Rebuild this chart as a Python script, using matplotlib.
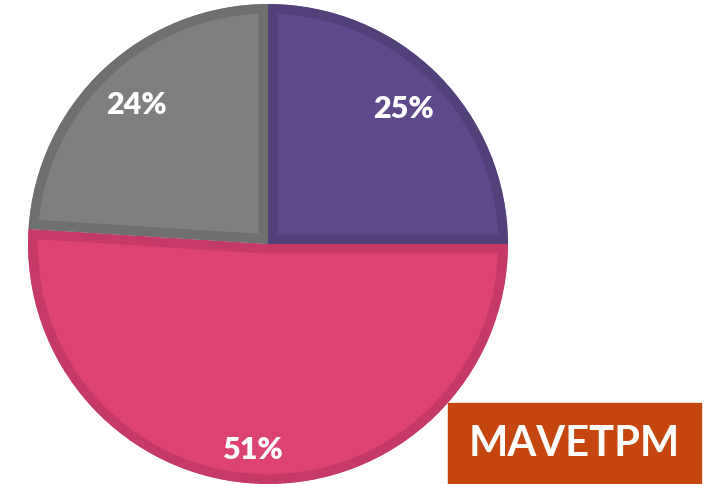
import matplotlib.pyplot as plt

# pie shares, clockwise from the top
labels = ["A", "B", "C"]
values = [25, 51, 24]
fills = ["#5E4A8B", "#DC4373", "#7F7F7F"]
edges = ["#51407A", "#C63A67", "#6F6F6F"]
tag = "MAVETPM"

fig = plt.figure(figsize=(7.08, 4.85), dpi=100)
ax = fig.add_axes([0, 0, 1, 1])

wedges, _, pcts = ax.pie(values, colors=fills, startangle=90, counterclock=False,
                         center=(268, 240), radius=240, autopct="%d%%", pctdistance=0.8,
                         wedgeprops=dict(linewidth=14, edgecolor="none"),
                         textprops=dict(color="white", fontsize=22, fontweight="heavy",
                                        family=["Lato", "DejaVu Sans"]))

# pie() resets the limits, so set them afterwards
ax.set_xlim(0, 708)
ax.set_ylim(0, 485)
ax.set_aspect("equal")
ax.axis("off")

# inner darker border: stroke each wedge with its own outline clipped to itself
for w, ec in zip(wedges, edges):
    w.set_edgecolor(ec)
    w.set_clip_on(True)
    w.set_clip_path(w)

# the big slice label sits a bit further out
x, y = pcts[1].get_position()
pcts[1].set_position((268 + (x - 268) * 1.07 - 8, 240 + (y - 240) * 1.07))

ax.add_patch(plt.Rectangle((448, 0), 253, 81, color="#C5460E", zorder=5))
ax.text(574, 41, tag, color="white", fontsize=30, fontweight="bold",
        family=["Lato", "DejaVu Sans"], ha="center", va="center", zorder=6)

fig.savefig("out.png", dpi=100)
